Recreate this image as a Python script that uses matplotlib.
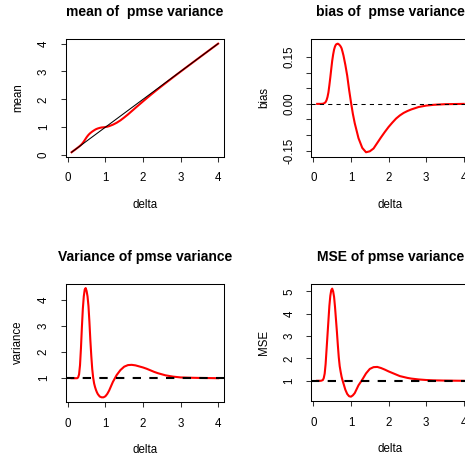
import matplotlib.pyplot as plt
import matplotlib.transforms as mtransforms

plt.rcParams['font.family'] = ['Liberation Sans', 'DejaVu Sans']

# values
delta = [0.10, 0.20, 0.25, 0.275, 0.30, 0.325, 0.35, 0.375, 0.40, 0.425, 0.45, 0.475,
         0.50, 0.525, 0.55, 0.575, 0.60, 0.625, 0.65, 0.675, 0.70, 0.725, 0.75, 0.775,
         0.80, 0.85, 0.90, 0.95, 1.00, 1.05, 1.10, 1.20, 1.30, 1.40, 1.50, 1.60, 1.70,
         1.80, 1.90, 2.00, 2.10, 2.20, 2.30, 2.40, 2.50, 2.60, 2.80, 3.00, 3.20, 3.50, 4.00]

mean = [0.10, 0.20, 0.2505, 0.2765, 0.303, 0.331, 0.362, 0.397, 0.437, 0.485, 0.535, 0.587,
        0.638, 0.683, 0.724, 0.759, 0.79, 0.817, 0.843, 0.866, 0.888, 0.909, 0.928, 0.942,
        0.955, 0.975, 0.99, 0.995, 1.005, 1.018, 1.038, 1.09, 1.159, 1.245, 1.348, 1.457, 1.575,
        1.693, 1.81, 1.926, 2.04, 2.153, 2.263, 2.371, 2.477, 2.582, 2.79, 2.9945, 3.197, 3.499, 4.00]

bias = [0.0, 0.0, 0.0005, 0.0015, 0.003, 0.006, 0.012, 0.022, 0.037, 0.06, 0.085, 0.112,
        0.138, 0.158, 0.174, 0.184, 0.19, 0.192, 0.193, 0.191, 0.188, 0.184, 0.178, 0.167,
        0.155, 0.125, 0.09, 0.045, 0.005, -0.032, -0.062, -0.11, -0.141, -0.155, -0.152, -0.143, -0.125,
        -0.107, -0.09, -0.074, -0.06, -0.047, -0.037, -0.029, -0.023, -0.018, -0.01, -0.0055, -0.003, -0.001, 0.0]

variance = [1.0, 1.0, 1.0, 1.03, 1.15, 1.5, 2.15, 2.95, 3.65, 4.12, 4.38, 4.44,
            4.33, 4.12, 3.75, 3.15, 2.45, 1.85, 1.35, 1.02, 0.80, 0.66, 0.55, 0.46,
            0.39, 0.30, 0.27, 0.27, 0.31, 0.40, 0.53, 0.86, 1.12, 1.31, 1.44, 1.50, 1.51,
            1.49, 1.45, 1.41, 1.36, 1.30, 1.24, 1.19, 1.15, 1.11, 1.06, 1.03, 1.02, 1.01, 1.00]

mse = [1.0, 1.0, 1.03, 1.12, 1.32, 1.75, 2.4, 3.05, 3.7, 4.35, 4.8, 5.05,
       5.12, 5.0, 4.75, 4.3, 3.75, 3.2, 2.6, 2.05, 1.65, 1.40, 1.18, 1.02,
       0.88, 0.60, 0.41, 0.31, 0.29, 0.35, 0.45, 0.80, 1.05, 1.33, 1.53, 1.61, 1.62,
       1.57, 1.50, 1.42, 1.35, 1.28, 1.21, 1.17, 1.13, 1.10, 1.06, 1.035, 1.02, 1.01, 1.00]

xticks = [0, 1, 2, 3, 4]
mean_ticks = [0, 1, 2, 3, 4]
bias_ticks = [-0.15, -0.10, -0.05, 0.00, 0.05, 0.10, 0.15]
bias_labels = ['-0.15', '', '', '0.00', '', '', '0.15']
var_ticks = [1, 2, 3, 4]
mse_ticks = [1, 2, 3, 4, 5]

W, H = 465, 462
fig = plt.figure(figsize=(W / 100, H / 100), dpi=100)


def px_axes(left, top, right, bottom):
    return fig.add_axes([left / W, 1 - bottom / H, (right - left) / W, (bottom - top) / H])


def r_lim(vals):
    # R style axis range: data range stretched by 4% on each side
    lo, hi = min(vals), max(vals)
    d = (hi - lo) * 0.04
    return lo - d, hi + d


def offset(ax, dx, dy):
    return ax.transAxes + mtransforms.ScaledTranslation(dx / 100, dy / 100, fig.dpi_scale_trans)


def style(ax, title, ylab, ydata, yticks, ylabels=None):
    ax.set_xlim(r_lim(delta))
    ax.set_ylim(r_lim(ydata))
    ax.set_xticks(xticks)
    ax.set_yticks(yticks)
    ax.set_yticklabels(ylabels if ylabels else [str(t) for t in yticks],
                       rotation=90, va='center')
    ax.tick_params(direction='out', length=3.8, width=0.75, pad=7.6,
                   labelsize=8.3, color='#333333')
    for s in ax.spines.values():
        s.set_linewidth(0.75)
    ax.text(0.5, 1, title, transform=offset(ax, 0, 27), ha='center', va='center',
            fontsize=10, fontweight='bold')
    ax.text(0.5, 0, 'delta', transform=offset(ax, 0, -48.5), ha='center', va='center',
            fontsize=8.3)
    ax.text(0, 0.5, ylab, transform=offset(ax, -47.4, 0), ha='center', va='center',
            rotation=90, fontsize=8.3)


# top left: mean
ax1 = px_axes(65.7, 39.3, 224, 156.6)
ax1.plot(delta, mean, color='red', lw=1.5)
ax1.plot(delta, delta, color='black', lw=0.75)
style(ax1, 'mean of  pmse variance', 'mean', mean, mean_ticks)

# top right: bias
ax2 = px_axes(311.3, 39.3, 469.6, 156.6)
ax2.plot(delta, bias, color='red', lw=1.5)
ax2.axhline(0, color='black', lw=0.75, ls=(0, (4, 4)))
style(ax2, 'bias of  pmse variance', 'bias', bias, bias_ticks, bias_labels)

# bottom left: variance
ax3 = px_axes(65.7, 283.7, 224, 401.7)
ax3.plot(delta, variance, color='red', lw=1.5)
ax3.axhline(1, color='black', lw=1.5, ls=(0, (4, 4)))
style(ax3, 'Variance of pmse variance', 'variance', variance, var_ticks)

# bottom right: MSE
ax4 = px_axes(311.3, 284.3, 469.6, 401.0)
ax4.plot(delta, mse, color='red', lw=1.5)
ax4.axhline(1, color='black', lw=1.5, ls=(0, (4, 4)))
style(ax4, 'MSE of pmse variance', 'MSE', mse, mse_ticks)

fig.savefig('out.png', dpi=100)
